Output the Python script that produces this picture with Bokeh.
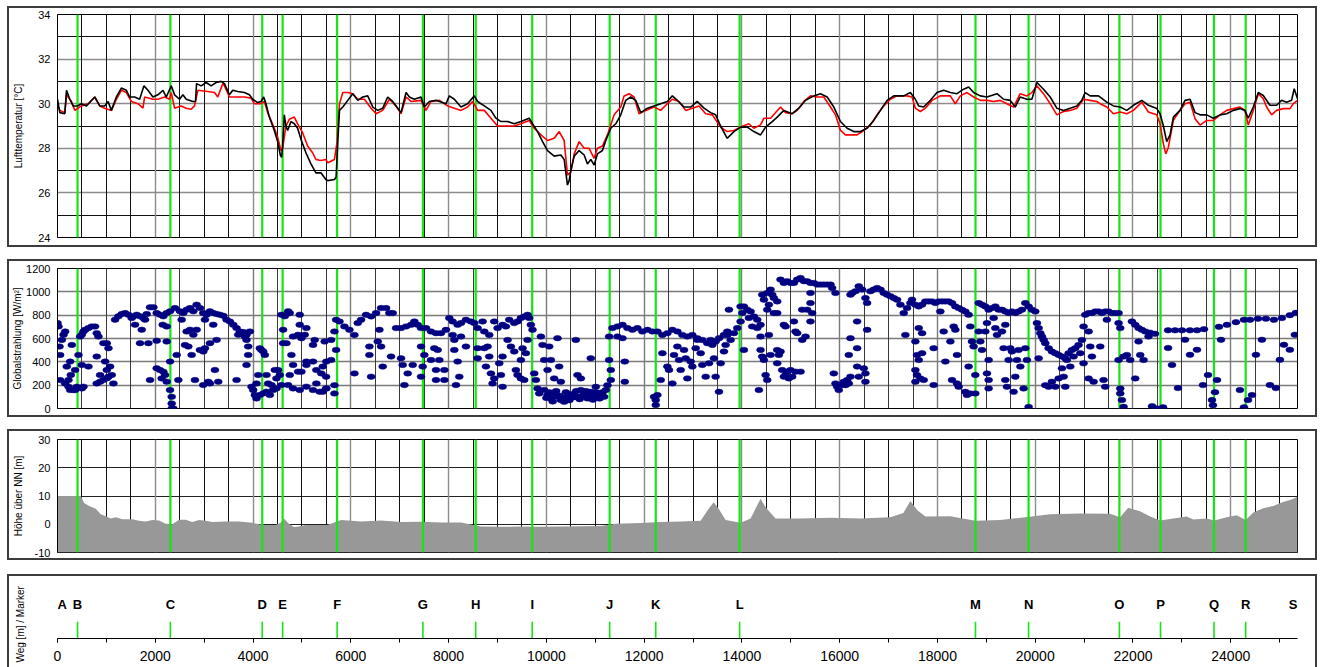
from bokeh.plotting import figure
from bokeh.models import (Range1d, SingleIntervalTicker, Grid, Spacer, Title,
                          PrintfTickFormatter)
from bokeh.layouts import column
from bokeh.embed import file_html
from bokeh.resources import INLINE
from bokeh.core.properties import value

FONT = "Liberation Sans"
X_END = 25365  # route length [m]

# ---------------- data ----------------
marker_names = list("ABCDEFGHIJKLMNOPQRS")
marker_pos = [0, 410, 2309, 4188, 4605, 5720, 7475, 8555, 9710, 11295, 12238,
              13953, 18778, 19864, 21722, 22563, 23657, 24305, 25365]

temp_ticks = [24, 26, 28, 30, 32, 34]
rad_ticks = [0, 200, 400, 600, 800, 1000, 1200]
height_ticks = [-10, 0, 10, 20, 30]

# air temperature, sensor 1 (black) : (distance m, degC)
temp_black_pts = [
    (0, 30.2), (48, 29.6), (150, 29.55), (184, 30.6), (252, 30.2), (320, 29.9), (408, 29.9),
    (490, 30.0), (592, 29.9), (762, 30.3), (864, 29.9), (966, 29.9), (1034, 30.1), (1102, 29.7),
    (1204, 30.3), (1306, 30.7), (1408, 30.6), (1476, 30.3), (1578, 30.3), (1680, 30.2),
    (1769, 30.8), (1850, 30.6), (1952, 30.3), (2054, 30.4), (2157, 30.6), (2225, 30.3),
    (2327, 30.8), (2395, 30.4), (2497, 30.2), (2565, 30.4), (2633, 30.2), (2769, 30.1),
    (2823, 30.1), (2844, 30.9), (2939, 30.8), (3041, 30.95), (3143, 30.8), (3245, 30.95),
    (3347, 31.0), (3415, 30.9), (3517, 30.4), (3585, 30.6), (3687, 30.55), (3823, 30.5),
    (3925, 30.4), (3993, 30.2), (4095, 30.05), (4163, 30.1), (4218, 30.3), (4265, 30.0),
    (4333, 29.4), (4435, 28.8), (4503, 28.3), (4558, 27.7), (4585, 27.6), (4605, 28.1),
    (4640, 29.5), (4673, 29.0), (4708, 28.8), (4776, 29.2), (4844, 29.1), (4912, 28.9),
    (4980, 28.4), (5082, 27.8), (5184, 27.3), (5286, 26.9), (5388, 26.9), (5490, 26.6),
    (5529, 26.55), (5665, 26.6), (5699, 26.7), (5734, 28.3), (5768, 29.7), (5836, 29.85),
    (5938, 30.15), (6040, 30.45), (6142, 30.15), (6244, 30.3), (6346, 30.35), (6449, 29.85),
    (6551, 29.7), (6653, 29.8), (6755, 30.3), (6857, 30.1), (7027, 29.6), (7130, 30.5),
    (7198, 30.3), (7300, 30.2), (7436, 30.3), (7504, 29.85), (7606, 30.1), (7742, 30.15),
    (7947, 30.0), (8015, 30.35), (8117, 30.2), (8253, 29.85), (8389, 30.0), (8526, 30.35),
    (8594, 30.1), (8730, 29.9), (8866, 29.7), (8968, 29.35), (9070, 29.2), (9207, 29.2),
    (9343, 29.1), (9479, 29.2), (9649, 29.35), (9717, 29.1), (9820, 28.75), (9922, 28.3),
    (10024, 27.9), (10160, 27.65), (10296, 27.7), (10364, 27.5), (10432, 26.35), (10466, 26.55),
    (10501, 27.0), (10569, 27.65), (10671, 27.9), (10773, 27.7), (10841, 27.3), (10909, 27.5),
    (10977, 27.25), (11045, 27.75), (11147, 27.9), (11216, 28.35), (11318, 28.9), (11420, 29.1),
    (11522, 29.5), (11624, 30.15), (11726, 30.3), (11828, 30.15), (11931, 29.6), (12067, 29.8),
    (12203, 29.9), (12339, 30.0), (12475, 30.1), (12577, 30.35), (12680, 30.15), (12816, 29.85),
    (12952, 29.85), (13088, 30.1), (13225, 29.8), (13361, 29.6), (13463, 29.5),
    (13564, 29.0), (13700, 28.45), (13837, 28.75), (13973, 28.95), (14109, 28.95), (14245, 28.75),
    (14382, 28.6), (14484, 28.95), (14620, 29.2), (14722, 29.4), (14858, 29.7), (15028, 29.55),
    (15165, 29.8), (15301, 30.15), (15471, 30.35), (15607, 30.45), (15744, 30.3), (15880, 29.85),
    (16016, 29.2), (16152, 28.9), (16288, 28.75), (16425, 28.75), (16561, 28.9), (16697, 29.25),
    (16833, 29.7), (16969, 30.15), (17106, 30.35), (17310, 30.35), (17446, 30.5), (17548, 30.2),
    (17616, 29.9), (17718, 29.85), (17855, 30.15), (17991, 30.5), (18127, 30.6), (18263, 30.5),
    (18399, 30.45), (18536, 30.65), (18638, 30.75), (18740, 30.5), (18876, 30.35), (19012, 30.3),
    (19217, 30.45), (19353, 30.2), (19489, 30.15), (19591, 29.85), (19693, 30.3), (19830, 30.2),
    (19932, 30.2), (20034, 30.95), (20170, 30.65), (20306, 30.3), (20442, 29.8), (20579, 29.7),
    (20715, 29.8), (20851, 29.9), (20953, 30.15), (21021, 30.5), (21123, 30.35), (21294, 30.35),
    (21464, 30.07), (21600, 29.9), (21737, 29.85), (21873, 29.7), (22009, 29.93), (22179, 30.15),
    (22315, 29.93), (22486, 29.78), (22554, 29.55), (22622, 29.0), (22690, 28.3), (22758, 28.6),
    (22826, 29.4), (22962, 29.7), (23065, 30.15), (23167, 30.2), (23269, 29.6), (23371, 29.5),
    (23507, 29.5), (23643, 29.35), (23780, 29.5), (23916, 29.55), (24052, 29.7), (24188, 29.78),
    (24290, 29.7), (24358, 29.35), (24461, 29.85), (24563, 30.5), (24665, 30.37), (24801, 29.93),
    (24937, 29.93), (25039, 30.15), (25142, 30.07), (25244, 30.15), (25298, 30.67), (25365, 30.22),
]

# air temperature, sensor 2 (red)
temp_red_pts = [
    (0, 29.9), (48, 29.7), (150, 29.6), (184, 30.4), (286, 30.1), (354, 29.7), (490, 29.9),
    (626, 30.0), (762, 30.3), (864, 29.9), (966, 29.8), (1102, 29.7), (1204, 30.2), (1306, 30.6),
    (1408, 30.5), (1510, 30.1), (1646, 30.0), (1748, 29.8), (1782, 30.3), (1952, 30.2),
    (2054, 30.2), (2191, 30.3), (2293, 30.2), (2327, 30.5), (2395, 29.8), (2531, 29.9),
    (2633, 29.8), (2735, 29.75), (2803, 29.9), (2871, 30.6), (3075, 30.55), (3211, 30.5),
    (3279, 30.3), (3381, 30.9), (3415, 30.8), (3517, 30.3), (3619, 30.3), (3823, 30.3),
    (3959, 30.25), (4027, 30.0), (4163, 30.0), (4231, 30.1), (4299, 29.6), (4435, 28.9),
    (4503, 28.5), (4571, 27.9), (4605, 28.0), (4673, 29.0), (4742, 29.3), (4844, 29.4),
    (4912, 29.1), (5014, 28.7), (5116, 28.1), (5218, 27.8), (5286, 27.5), (5388, 27.45),
    (5490, 27.5), (5529, 27.35), (5665, 27.5), (5720, 28.3), (5768, 30.0), (5836, 30.5),
    (5938, 30.5), (6040, 30.45), (6142, 30.2), (6278, 30.2), (6415, 29.8), (6517, 29.55),
    (6653, 29.7), (6789, 30.2), (6925, 29.9), (7027, 29.55), (7130, 30.3), (7232, 30.1),
    (7436, 30.15), (7538, 29.7), (7640, 30.1), (7811, 30.15), (7981, 29.9), (8117, 29.8),
    (8253, 29.7), (8389, 29.85), (8492, 30.1), (8594, 29.7), (8730, 29.7), (8866, 29.35),
    (9002, 29.0), (9139, 29.0), (9343, 29.0), (9479, 29.1), (9649, 29.25), (9751, 28.9),
    (9888, 28.6), (10024, 28.35), (10160, 28.45), (10262, 28.75), (10364, 28.35), (10432, 26.8),
    (10501, 26.95), (10569, 27.75), (10671, 28.3), (10773, 28.0), (10875, 28.0), (10977, 27.55),
    (11045, 28.0), (11147, 28.1), (11250, 28.6), (11386, 29.5), (11522, 29.85), (11590, 30.35),
    (11692, 30.45), (11794, 30.3), (11896, 29.55), (12033, 29.7), (12203, 29.85), (12339, 29.7),
    (12475, 30.0), (12577, 30.2), (12714, 30.1), (12850, 29.7), (12986, 29.8), (13122, 29.9),
    (13259, 29.55), (13395, 29.5),
    (13564, 28.95), (13700, 28.75), (13837, 28.8), (13973, 28.95), (14143, 29.1), (14245, 28.9),
    (14382, 29.05), (14450, 29.35), (14586, 29.35), (14790, 29.85), (14892, 29.6), (15028, 29.55),
    (15131, 29.7), (15267, 30.1), (15403, 30.35), (15539, 30.3), (15675, 30.3), (15812, 29.85),
    (15914, 29.5), (16016, 28.8), (16118, 28.6), (16220, 28.6), (16356, 28.6), (16493, 28.8),
    (16629, 29.05), (16765, 29.5), (16901, 29.9), (17037, 30.2), (17174, 30.35), (17378, 30.35),
    (17480, 30.3), (17548, 29.8), (17650, 29.65), (17752, 29.8), (17889, 30.15), (18059, 30.35),
    (18263, 30.35), (18365, 30.0), (18468, 30.35), (18604, 30.5), (18740, 30.3), (18876, 30.15),
    (19012, 30.15), (19149, 30.1), (19285, 30.15), (19421, 30.0), (19557, 29.85), (19693, 30.45),
    (19830, 30.35), (19932, 30.5), (20034, 30.8), (20170, 30.45), (20306, 30.0), (20442, 29.5),
    (20579, 29.65), (20715, 29.7), (20851, 29.8), (20987, 30.2), (21123, 30.15), (21260, 30.1),
    (21328, 30.0), (21464, 29.85), (21600, 29.55), (21737, 29.63), (21873, 29.55), (22009, 29.7),
    (22179, 30.07), (22315, 29.63), (22486, 29.5), (22554, 29.1), (22622, 28.2), (22670, 27.75),
    (22724, 28.05), (22826, 29.25), (22962, 29.7), (23065, 30.0), (23167, 30.07), (23269, 29.33),
    (23371, 29.04), (23507, 29.25), (23643, 29.25), (23780, 29.5), (23916, 29.7), (24052, 29.78),
    (24188, 29.85), (24290, 29.7), (24358, 29.04), (24461, 29.7), (24563, 30.45), (24665, 30.22),
    (24733, 29.85), (24835, 29.5), (24937, 29.7), (25074, 29.78), (25210, 29.78), (25278, 30.0),
    (25365, 30.15),
]

# global radiation samples : (distance m, W/m2)
radiation_pts = [
    (0, 732), (20, 703), (54, 459), (41, 531), (89, 588), (123, 632), (157, 660), (54, 244),
    (157, 215), (225, 187), (259, 158), (327, 158), (225, 244), (272, 287), (191, 359), (259, 402),
    (293, 545), (361, 330), (361, 158), (395, 187), (463, 617), (497, 632), (531, 660), (565, 675),
    (633, 689), (701, 703), (769, 703), (803, 646), (837, 617), (429, 459), (497, 373), (633, 359),
    (497, 172), (531, 187), (803, 445), (803, 215), (871, 230), (871, 287), (940, 244), (940, 560),
    (1008, 560), (1042, 517), (974, 402), (1008, 330), (1076, 359), (1110, 287), (1042, 273),
    (1144, 215), (1008, 258), (1178, 761), (1246, 790), (1314, 810), (1382, 818), (1450, 804),
    (1518, 775), (1552, 790), (1620, 804), (1689, 790), (1757, 775), (1825, 810), (1893, 867),
    (1961, 867), (2029, 818), (2097, 804), (2165, 790), (2234, 818), (2302, 833), (1587, 718),
    (1723, 675), (1689, 560), (1859, 560), (1791, 761), (1893, 244), (2029, 345), (2097, 330),
    (2165, 316), (2200, 287), (2131, 258), (2234, 230), (2029, 580), (2234, 574), (2152, 718),
    (2234, 703), (2302, 402), (2336, 100), (2336, 43), (2336, 0), (2370, 0), (2302, 158),
    (2438, 459), (2472, 244), (2404, 861), (2506, 833), (2574, 818), (2642, 847), (2710, 861),
    (2778, 833), (2846, 890), (2914, 861), (2982, 818), (3050, 804), (3118, 833), (3186, 818),
    (3254, 810), (3322, 804), (3390, 795), (3458, 761), (3526, 746), (3595, 718), (3663, 689),
    (3731, 660), (3799, 655), (3867, 632), (3935, 660), (2540, 761), (2642, 660), (2710, 675),
    (2778, 632), (2846, 675), (2914, 502), (2982, 488), (3118, 560), (3186, 718), (3254, 588),
    (3016, 761), (2608, 545), (2676, 531), (2744, 459), (2812, 244), (2982, 201), (3084, 230),
    (3118, 215), (3220, 330), (3016, 517), (3288, 230), (3663, 244), (3697, 632), (3867, 588),
    (3901, 459), (3867, 373), (3833, 617), (3901, 531), (3969, 187), (4003, 158), (4037, 115),
    (4071, 86), (4139, 115), (4207, 129), (4275, 144), (4343, 115), (4411, 158), (4479, 172),
    (4445, 330), (4513, 330), (4581, 201), (4071, 215), (4105, 287), (4139, 517), (4173, 502),
    (4207, 488), (4241, 459), (4275, 287), (4309, 215), (4377, 201), (4479, 258), (4547, 287),
    (4581, 804), (4649, 790), (4717, 833), (4751, 818), (4615, 675), (4615, 560), (4683, 560),
    (4819, 617), (4921, 632), (4989, 603), (5057, 632), (5091, 689), (4955, 804), (4955, 718),
    (4785, 459), (4819, 373), (4751, 287), (4921, 316), (4989, 316), (5091, 373), (5227, 402),
    (5295, 330), (5397, 301), (5499, 402), (4717, 201), (4819, 172), (4955, 158), (5091, 187),
    (5227, 158), (5363, 144), (5499, 172), (5295, 215), (5227, 545), (5261, 588), (5465, 574),
    (5091, 402),
    (5427, 359), (5495, 273), (5427, 143), (5495, 172), (5665, 129), (5665, 200), (5597, 416),
    (5597, 588), (5665, 660), (5699, 760), (5699, 502), (5768, 746), (5870, 703), (5972, 674),
    (6074, 631), (6142, 732), (6210, 760), (6312, 803), (6415, 789), (6517, 818), (6619, 861),
    (6721, 861), (6789, 818), (6857, 818), (6925, 689), (7027, 689), (7130, 703), (7232, 717),
    (7300, 746), (7368, 717), (7436, 689), (7538, 689), (7640, 660), (7742, 646), (7844, 646),
    (7947, 674), (8015, 775), (8083, 746), (8185, 717), (8253, 732), (8355, 760), (8457, 746),
    (8526, 732), (8594, 689), (8696, 746), (8730, 660), (8832, 631), (8934, 746), (9002, 689),
    (9104, 717), (9173, 703), (9241, 760), (9343, 732), (9411, 746), (9479, 775), (9547, 789),
    (9615, 803), (9649, 775), (9683, 717), (9717, 674),
    (6074, 301), (6415, 273), (6380, 531), (6380, 459), (6551, 574), (6619, 531), (6585, 674),
    (6653, 359), (6823, 445), (7027, 430), (7061, 373), (7096, 201), (7164, 301), (7266, 373),
    (7436, 531), (7436, 273), (7504, 459), (7470, 359), (7640, 416), (7708, 517), (7742, 330),
    (7776, 502), (7810, 416), (7742, 244), (7913, 244), (7913, 330), (8083, 631), (8117, 502),
    (8185, 402), (8219, 273), (8151, 201), (8117, 588), (8253, 617), (8355, 531),
    (8594, 517), (8594, 430), (8730, 517), (8798, 531), (8832, 445), (8764, 359), (8866, 301),
    (8934, 258), (8900, 215), (9036, 387), (9070, 287), (9104, 186), (9104, 445), (9207, 588),
    (9275, 531), (9343, 488), (9377, 330), (9411, 287), (9479, 416), (9513, 517), (9479, 258),
    (9547, 244), (9581, 474), (9615, 588),
    (9752, 301), (9786, 244), (9820, 172), (9854, 129), (9888, 617), (9922, 545), (9956, 416),
    (10024, 330), (10058, 531), (10092, 416), (10160, 258), (10228, 603), (10262, 359),
    (10296, 229), (9956, 158), (10024, 115), (10092, 86), (10160, 129), (10228, 100),
    (10296, 72), (10364, 57), (10432, 100), (10500, 115), (10569, 129), (10637, 100),
    (10705, 158), (10773, 129), (10841, 86), (10909, 143), (10977, 115), (11045, 100),
    (11114, 129), (11182, 100), (11216, 158), (11250, 200), (10603, 588), (10637, 287),
    (10705, 258), (10909, 430), (11011, 186), (11284, 416), (11284, 617), (11318, 330),
    (11318, 244), (10000, 90), (10060, 140), (10130, 60), (10200, 150), (10270, 110),
    (10330, 90), (10400, 140), (10470, 70), (10540, 95), (10610, 150), (10680, 80),
    (10740, 110), (10810, 150), (10880, 120), (10950, 75), (11020, 140), (11090, 85),
    (11150, 140),
    (11352, 689), (11454, 703), (11556, 717), (11658, 689), (11760, 674), (11862, 689),
    (11964, 660), (12067, 674), (12169, 660), (12271, 660), (12373, 631), (12475, 646),
    (12577, 674), (12680, 660), (12782, 631), (12884, 617), (12986, 631), (13088, 603),
    (13190, 588), (13292, 560), (13395, 545), (13463, 574), (13531, 603), (13633, 631),
    (13701, 660), (13735, 847), (11556, 603), (11454, 617),
    (11604, 402), (11604, 229), (12203, 100), (12237, 72), (12237, 29), (12271, 115),
    (12339, 244), (12373, 474), (12475, 359), (12509, 330), (12577, 215), (12611, 459),
    (12680, 531), (12714, 416), (12748, 330), (12816, 502), (12850, 430), (12884, 258),
    (12952, 402), (12986, 359), (13054, 517), (13088, 588), (13156, 474), (13190, 373),
    (13259, 273), (13327, 387), (13361, 588), (13429, 430), (13463, 273), (13531, 143),
    (13565, 387), (13633, 488), (13667, 545), (13701, 631),
    (13769, 588), (13837, 646), (13905, 689), (13973, 746), (13973, 875), (14041, 875),
    (14110, 847), (14178, 832), (14246, 789), (14314, 760), (14382, 717), (14041, 502),
    (14007, 818), (14143, 775), (14212, 703), (14314, 689), (14382, 617),
    (14416, 976), (14450, 933), (14518, 990), (14586, 1019), (14620, 976), (14654, 947),
    (14722, 918), (14518, 847), (14552, 890), (14654, 818), (14722, 818), (14382, 502),
    (14416, 445), (14450, 416), (14484, 287), (14518, 244), (14552, 631), (14586, 459),
    (14722, 502), (14756, 459), (14790, 488), (14722, 387),
    (14824, 330), (14858, 273), (14926, 316), (14960, 258), (14994, 330), (15028, 273),
    (15096, 316), (15199, 316), (14893, 287),
    (14858, 717), (14893, 703), (15063, 746), (15096, 660), (15130, 646), (15233, 588),
    (15301, 617), (15403, 746), (15437, 818), (15403, 904), (15233, 847), (15335, 847),
    (15403, 990), (14348, 158),
    (14790, 1105), (14858, 1076), (14927, 1091), (14995, 1076), (15063, 1076), (15131, 1105),
    (15199, 1119), (15267, 1091), (15335, 1091), (15403, 1076), (15471, 1076), (15539, 1062),
    (15607, 1062), (15676, 1062), (15744, 1062), (15812, 1062), (15846, 1033), (15914, 990),
    (16221, 976), (16255, 990), (16323, 1005), (16391, 1048), (16459, 1019), (16527, 947),
    (16561, 904), (16629, 1005), (16697, 1019), (16766, 1033), (16834, 1019), (16902, 990),
    (16970, 976), (17038, 962), (17106, 947), (17174, 933), (17242, 890), (17310, 818),
    (17378, 861), (17446, 904), (17480, 933), (17548, 890), (17617, 875), (17685, 890),
    (17753, 918), (17821, 918), (17889, 918), (17957, 904), (18025, 918), (18093, 918),
    (18162, 918), (18230, 918), (18298, 904), (18366, 875), (18434, 861), (18502, 847),
    (18570, 832), (18638, 803),
    (15880, 301), (15914, 215), (15948, 186), (15982, 158), (16016, 200), (16085, 229),
    (16119, 200), (16153, 244), (16187, 215), (16221, 273), (16187, 459), (16221, 603),
    (16357, 517), (16357, 359), (16391, 273), (16493, 344), (16527, 301), (16527, 229),
    (16357, 746), (16561, 674),
    (17344, 631), (17548, 574), (17617, 689), (17685, 646), (17582, 459), (17617, 416),
    (17685, 474), (17548, 330), (17582, 287), (17548, 229), (17651, 258), (17719, 244),
    (17923, 201), (17923, 517), (18127, 660), (18162, 402), (18264, 574), (18332, 703),
    (18366, 674), (18400, 459), (18298, 244), (18400, 215), (18434, 186), (18059, 832),
    (18570, 143), (18604, 115), (18672, 129), (18638, 359), (18672, 703), (18706, 574),
    (18740, 531), (18774, 287), (18774, 129),
    (18843, 904), (18911, 890), (18979, 875), (19047, 847), (19116, 861), (19184, 875),
    (19252, 847), (19320, 847), (19388, 832), (19456, 818), (19524, 832), (19592, 818),
    (19660, 832), (19728, 847), (19797, 904), (19865, 875), (19933, 847), (20001, 832),
    (18843, 660), (18877, 574), (18911, 502), (18979, 660), (19013, 732), (19047, 416),
    (19013, 301), (19047, 244), (19047, 172), (19149, 775), (19184, 689), (19218, 631),
    (19320, 660), (19354, 517), (19388, 717), (19388, 244), (19422, 186), (19456, 416),
    (19490, 517), (19524, 488), (19558, 143), (19592, 273), (19626, 416), (19660, 502),
    (19695, 359), (19763, 172), (19797, 517), (19831, 416), (19865, 14),
    (20035, 732), (20070, 689), (20104, 646), (20138, 617), (20172, 588), (20206, 560),
    (20274, 517), (20342, 488), (20410, 474), (20479, 459), (20547, 445), (20615, 430),
    (20683, 474), (20751, 502), (20819, 517), (20887, 545), (20955, 588), (20989, 703),
    (21024, 803), (21092, 818), (21160, 818), (21228, 832), (21296, 832), (21364, 818),
    (21432, 832), (21500, 832), (21568, 818), (21637, 818), (21705, 818),
    (20070, 430), (20206, 200), (20274, 186), (20342, 229), (20410, 186), (20479, 258),
    (20547, 344), (20581, 273), (20615, 186), (20649, 416), (20717, 359), (20785, 445),
    (20921, 474), (20989, 387), (21092, 660), (21126, 531), (21160, 445), (21092, 258),
    (21194, 229), (21330, 531), (21398, 244), (21432, 186), (21466, 760),
    (21705, 732), (21739, 689), (21705, 416), (21739, 172), (21739, 129), (21773, 72),
    (21807, 14), (21807, 445), (21875, 459), (21943, 416), (21978, 746), (22046, 717),
    (22114, 689), (22182, 674), (22250, 660), (22318, 617), (22046, 258), (22114, 574),
    (22148, 459), (22216, 416),
    (22349, 650), (22451, 640), (22717, 670), (22860, 670), (23003, 670), (23166, 670),
    (23309, 670), (23452, 680), (23759, 700), (23922, 717), (24106, 740), (24270, 760),
    (24393, 760), (24556, 770), (24719, 770), (24883, 760), (25046, 775), (25209, 800),
    (25332, 820),
    (22390, 20), (22492, 0), (22615, 10), (23616, 72), (23636, 28), (23677, 140), (24270, 11),
    (24352, 72), (24188, 158), (24433, 115),
    (22717, 519), (22798, 373), (22921, 175), (23064, 589), (23166, 460), (23309, 503),
    (23432, 201), (23534, 287), (23718, 244), (23800, 589), (24515, 460), (24637, 589),
    (24801, 201), (24923, 175), (25087, 546), (25209, 503), (25311, 632), (25005, 417),
]

# terrain height above sea level : (distance m, m)
height_pts = [
    (0, 10), (477, 10), (545, 7.5), (647, 6.5), (783, 5.5), (885, 3.5), (987, 2.8), (1090, 2.0),
    (1192, 2.5), (1328, 1.8), (1532, 1.8), (1668, 1.2), (1805, 1.0), (1941, 1.5), (2077, 1.3),
    (2213, 0.2), (2349, 0.0), (2486, 1.6), (2622, 1.6), (2758, 0.8), (2894, 1.5), (3030, 1.2),
    (3167, 0.8), (3439, 1.0), (3711, 1.0), (3984, 0.5), (4120, 0.0), (4256, -0.3), (4461, -0.3),
    (4563, 0.5), (4631, 2.0), (4733, 0.2), (4835, -1.0), (4937, -0.8), (5073, -0.3),
    (5278, -0.3), (5516, -0.3), (5802, 1.5), (6210, 1.0), (6619, 1.3), (7028, 0.8), (7436, 0.9),
    (7845, 0.6), (8253, 0.6), (8662, -0.8), (9070, -0.9), (9479, -0.8), (9888, -0.9),
    (10296, -0.8), (10705, -0.7), (11113, -0.6), (11420, 0.2), (11931, 0.4), (12339, 0.8),
    (12748, 1.0), (13156, 1.2), (13299, 5.0), (13422, 7.8), (13524, 5.5), (13667, 1.5),
    (13973, 0.5), (14178, 2.0), (14321, 7.0), (14382, 9.0), (14484, 6.0), (14688, 2.0),
    (15199, 2.0), (15812, 2.3), (16425, 2.0), (17038, 2.5), (17303, 4.0), (17446, 8.2),
    (17589, 5.0), (17753, 2.7), (18264, 2.8), (18774, 1.2), (19285, 1.5), (19796, 2.5),
    (20307, 3.5), (20920, 3.8), (21532, 3.7), (21737, 2.5), (21900, 5.8), (22145, 4.6),
    (22350, 2.7), (22554, 1.3), (22690, 1.7), (23098, 2.7), (23234, 1.7), (23507, 2.0),
    (23664, 1.3), (23916, 2.5), (24120, 3.2), (24304, 1.5), (24461, 4.2), (24665, 5.7),
    (24869, 6.5), (25039, 7.7), (25244, 8.8), (25365, 9.7),
]

# ---------------- layout constants ----------------
W = 1310
ML, MR = 50, 20
GREEN = "#14e614"
EDGE = "#3c3c3c"
BOX = {"box-shadow": f"inset 0 0 0 2px {EDGE}", "background-color": "white"}
BOX_OPEN = {"box-shadow": f"inset 2px 0 0 0 {EDGE}, inset -2px 0 0 0 {EDGE}, inset 0 2px 0 0 {EDGE}",
            "background-color": "white"}


def split(pts):
    return [p[0] for p in pts], [p[1] for p in pts]


green_x = marker_pos[1:-1]


def panel(h, top, bottom, y0, y1, major_col, minor_col):
    p = figure(width=W, height=h, x_range=Range1d(0, X_END), y_range=Range1d(y0, y1),
               x_axis_type=None, output_backend="svg", toolbar_location=None, title=None,
               min_border_left=ML, min_border_right=MR, min_border_top=top,
               min_border_bottom=bottom)
    p.outline_line_color = "black"
    p.outline_line_width = 1
    p.outline_line_alpha = 1
    p.background_fill_color = "white"
    p.border_fill_color = None
    p.styles = BOX
    xg = Grid(dimension=0, ticker=SingleIntervalTicker(interval=2000, num_minor_ticks=4))
    xg.grid_line_color = major_col
    xg.grid_line_width = 1.4
    xg.minor_grid_line_color = minor_col
    xg.minor_grid_line_width = 1
    p.add_layout(xg, "center")
    return p


def style_y(p, label, ticks, minor, standoff):
    ax = p.yaxis[0]
    ax.ticker = SingleIntervalTicker(interval=ticks[1] - ticks[0], num_minor_ticks=minor)
    ax.axis_label = label
    ax.axis_label_text_font = FONT
    ax.axis_label_text_font_size = "10px"
    ax.axis_label_text_font_style = "normal"
    ax.axis_label_text_color = "black"
    ax.axis_label_standoff = standoff
    ax.major_label_text_font = FONT
    ax.major_label_text_font_size = "11px"
    ax.major_label_text_color = "black"
    ax.major_label_standoff = 7
    ax.major_tick_in = 0
    ax.major_tick_out = 0
    ax.minor_tick_in = 0
    ax.minor_tick_out = 0
    ax.axis_line_color = "black"


def green_lines(p, y0, y1):
    p.segment(x0=green_x, y0=[y0] * len(green_x), x1=green_x, y1=[y1] * len(green_x),
              line_color=GREEN, line_width=2.2)


# ---- panel 1: air temperature ----
p1 = panel(241, 8, 10, temp_ticks[0], temp_ticks[-1], "#8c8c8c", "#111111")
style_y(p1, "Lufttemperatur [°C]", temp_ticks, 2, 11)
p1.ygrid.grid_line_color = "#8c8c8c"
p1.ygrid.grid_line_width = 1.4
p1.ygrid.minor_grid_line_color = "#111111"
p1.ygrid.minor_grid_line_width = 1
green_lines(p1, temp_ticks[0], temp_ticks[-1])
rx, ry = split(temp_red_pts)
bx, by = split(temp_black_pts)
p1.line(rx, ry, line_color="#ff0000", line_width=1.6)
p1.line(bx, by, line_color="#000000", line_width=1.6)

# ---- panel 2: global radiation ----
p2 = panel(158, 9, 9, rad_ticks[0], rad_ticks[-1], "#7a7a7a", "#3a3a3a")
style_y(p2, "Globalstrahlung [W/m²]", rad_ticks, 0, 0)
p2.ygrid.grid_line_color = "#7a7a7a"
p2.ygrid.grid_line_width = 1.4
green_lines(p2, rad_ticks[0], rad_ticks[-1])
gx, gy = split(radiation_pts)
p2.ellipse(x=gx, y=gy, width=8, height=5.5, width_units="screen", height_units="screen",
           fill_color="#000080", line_color="#000080", line_width=0.5)

# ---- panel 3: terrain height ----
p3 = panel(131, 10, 8, height_ticks[0], height_ticks[-1], "#8c8c8c", "#111111")
style_y(p3, "Höhe über NN [m]", height_ticks, 0, 8)
p3.yaxis[0].formatter = PrintfTickFormatter(format="%d")
p3.ygrid.grid_line_color = "#222222"
p3.ygrid.grid_line_width = 1
hx, hy = split(height_pts)
p3.varea(x=hx, y1=[height_ticks[0]] * len(hx), y2=hy, fill_color="#989898")
green_lines(p3, height_ticks[0], height_ticks[-1])

# ---- panel 4: distance axis with markers ----
p4 = figure(width=W, height=93, x_range=Range1d(0, X_END), y_range=Range1d(0, 1),
            y_axis_type=None, output_backend="svg", toolbar_location=None, title=None,
            min_border_left=ML, min_border_right=MR, min_border_top=6,
            min_border_bottom=29)
p4.outline_line_color = None
p4.background_fill_color = None
p4.border_fill_color = None
p4.xgrid.visible = False
p4.styles = BOX_OPEN
xa = p4.xaxis[0]
xa.ticker = SingleIntervalTicker(interval=2000, num_minor_ticks=2)
xa.major_tick_in = 0
xa.major_tick_out = 4
xa.minor_tick_in = 0
xa.minor_tick_out = 4
xa.minor_tick_line_color = "black"
xa.major_tick_line_color = "black"
xa.axis_line_color = "black"
xa.major_label_text_font = FONT
xa.major_label_text_font_size = "14px"
xa.major_label_text_color = "black"
xa.major_label_standoff = 8

# blank gap between frame and the side label (keeps the label away from the frame)
gap_title = Title(text=" ", align="right", text_font=FONT, text_font_size="13px",
                  text_color="white")
p4.add_layout(gap_title, "left")
side_title = Title(text="Weg [m]  /  Marker", align="right",
                   text_font=FONT, text_font_size="10px", text_font_style="normal",
                   text_color="black")
p4.add_layout(side_title, "left")

p4.segment(x0=green_x, y0=[0] * len(green_x), x1=green_x, y1=[0.29] * len(green_x),
           line_color=GREEN, line_width=1.6)
txt = dict(text_baseline="middle", text_font=value(FONT), text_font_style="bold",
           text_font_size="13px", text_color="black")
p4.text(x=marker_pos[:1], y=[0.59], text=marker_names[:1], text_align="left", **txt)
p4.text(x=marker_pos[1:-1], y=[0.59] * (len(marker_pos) - 2), text=marker_names[1:-1],
        text_align="center", **txt)
p4.text(x=marker_pos[-1:], y=[0.59], text=marker_names[-1:], text_align="right", **txt)

layout = column(p1, Spacer(height=12), p2, Spacer(height=12), p3, Spacer(height=14), p4,
                margin=(6, 0, 0, 7))

with open("out.html", "w") as f:
    f.write(file_html(layout, INLINE))
